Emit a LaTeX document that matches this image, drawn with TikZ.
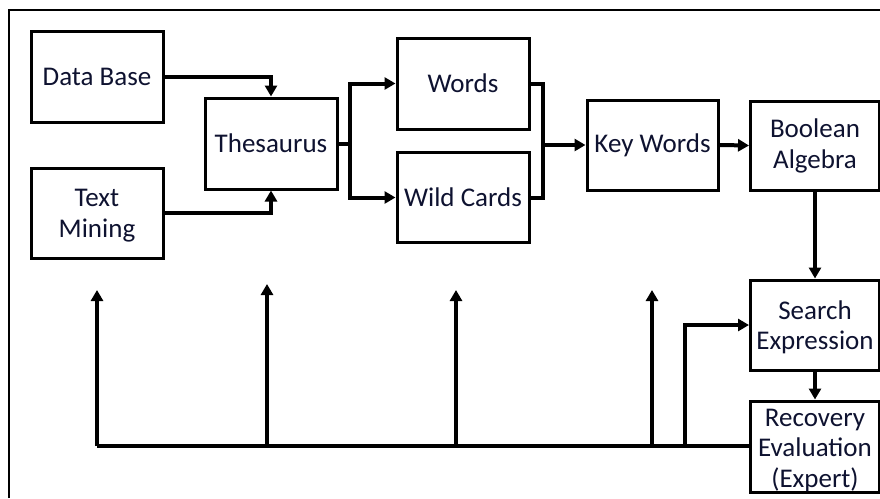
\documentclass[tikz,border=0pt]{standalone}
\usepackage{fontspec}
\setmainfont{Carlito}
\usetikzlibrary{arrows.meta}
\definecolor{ink}{RGB}{14,18,48}
\tikzset{
  box/.style={draw, line width=3pt, inner sep=0pt, align=center,
    text=ink, font=\fontsize{27}{31}\selectfont},
  txt/.style={inner sep=0pt, align=center, text=ink,
    font=\fontsize{27}{30.5}\selectfont},
  link/.style={line width=4pt, -{Triangle[length=11pt,width=12pt]}},
  bar/.style={line width=4pt},
}
\begin{document}
\begin{tikzpicture}[x=1pt,y=-1pt]
  \useasboundingbox (0,0) rectangle (880,498);
  % outer frame (top and left edges)
  \draw[line width=1.6pt] (9,498) -- (9,10) -- (880,10);

  % process boxes
  \node[box, minimum width=132pt, minimum height=91pt] (db) at (97,76.5) {Data Base};
  \node[box, minimum width=132pt, minimum height=90pt,
        label={[txt, yshift=-2.5pt]center:Text\\Mining}] (tm) at (97,213) {};
  \node[box, minimum width=132pt, minimum height=91pt] (th) at (271,143.5) {Thesaurus};
  \node[box, minimum width=132pt, minimum height=91pt] (wo) at (463,83.5) {Words};
  \node[box, minimum width=132pt, minimum height=90pt] (wc) at (463,197.5) {Wild Cards};
  \node[box, minimum width=131pt, minimum height=90pt] (kw) at (652.5,145) {Key Words};
  \node[box, minimum width=129pt, minimum height=89pt] (ba) at (815,145.5) {Boolean\\Algebra};
  \node[box, minimum width=129pt, minimum height=90pt,
        label={[txt, yshift=-2.5pt]center:Search\\Expression}] (se) at (815,325) {};
  \node[box, minimum width=129pt, minimum height=91pt,
        label={[txt, yshift=-4pt]center:Recovery\\Evaluation\\(Expert)}] (re) at (815,446.5) {};

  % inputs to the thesaurus
  \draw[link] (db.east) -| (th.north);
  \draw[link] (tm.east) -| (th.south);

  % thesaurus splits into words and wild cards
  \coordinate (split) at ([xshift=11pt]th.east);
  \draw[bar] (th.east) -- (split);
  \draw[link] (split) |- (wo.west);
  \draw[link] (split) |- (wc.west);

  % words and wild cards merge into key words
  \coordinate (merge) at ([xshift=12pt]wo.east |- kw.west);
  \draw[bar] (wo.east) -| (merge);
  \draw[bar] (wc.east) -| (merge);
  \draw[link] (merge) -- (kw.west);

  \draw[link] (kw.east) -- (ba.west);
  \draw[link] (ba.south) -- (se.north);
  \draw[link] (se.south) -- (re.north);

  % feedback bus from the evaluation
  \coordinate (b1) at (97,446);
  \coordinate (b2) at (267,446);
  \coordinate (b3) at (456,446);
  \coordinate (b4) at (652,446);
  \coordinate (b5) at (685,446);
  \draw[bar] (re.west |- b1) -- (b1);
  \draw[link] (b1) -- (97,290);
  \draw[link] (b2) -- (267,284);
  \draw[link] (b3) -- (456,290);
  \draw[link] (b4) -- (652,290);
  \draw[link] (b5) |- (se.west);
\end{tikzpicture}
\end{document}
